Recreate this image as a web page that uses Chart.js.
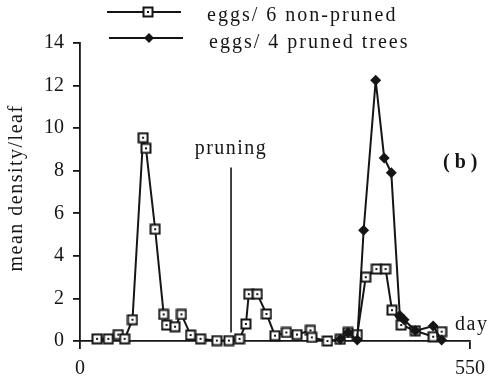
<!DOCTYPE html>
<html>
<head>
<meta charset="utf-8">
<script src="https://cdn.jsdelivr.net/npm/chart.js@4.4.0/dist/chart.umd.min.js"></script>
<style>
  html, body { margin: 0; padding: 0; background: #fff; }
  #wrap { width: 493px; height: 389px; }
</style>
</head>
<body>
<div id="wrap"><canvas id="chart" width="493" height="389"></canvas></div>
<script>
// data (day, mean eggs per leaf)
var nonPrunedDays = [24, 40, 54, 63, 74, 89, 93, 106, 118, 122, 134, 143, 156, 170, 193, 210, 225, 234, 238, 250, 263, 275, 291, 306, 325, 327, 349, 367, 378, 391, 403, 418, 431, 440, 453, 473, 498, 510];
var nonPrunedEggs = [0.1, 0.1, 0.3, 0.1, 1.0, 9.55, 9.05, 5.25, 1.25, 0.75, 0.67, 1.25, 0.28, 0.1, 0.02, 0.02, 0.1, 0.8, 2.2, 2.2, 1.27, 0.25, 0.4, 0.3, 0.5, 0.17, 0.0, 0.08, 0.4, 0.3, 3.0, 3.38, 3.38, 1.45, 0.75, 0.48, 0.2, 0.44];

var prunedDays = [367, 378, 391, 400, 417, 429, 439, 451, 457, 473, 498, 510];
var prunedEggs = [0.08, 0.4, 0.05, 5.2, 12.25, 8.6, 7.9, 1.2, 1.0, 0.48, 0.7, 0.05];

var pruningDay = [213, 213];
var pruningMark = [8.15, 0.4];

var xTickLabels = [0, 550];
var yTicks = [0, 2, 4, 6, 8, 10, 12, 14];

var serif = "'Liberation Serif', 'DejaVu Serif', serif";
var ink = "#151515";

function toPoints(xs, ys) {
    return xs.map(function (x, i) { return { x: x, y: ys[i] }; });
}

// open square with a dot, like the original marker
function makeSquare() {
    var c = document.createElement("canvas");
    c.width = 12; c.height = 12;
    var g = c.getContext("2d");
    g.fillStyle = "#fff";
    g.fillRect(1, 1, 10, 10);
    g.strokeStyle = ink;
    g.lineWidth = 2;
    g.strokeRect(1.5, 1.5, 9, 9);
    g.fillStyle = ink;
    g.fillRect(5, 5, 2, 2);
    return c;
}
var squareImg = makeSquare();

function spacedText(ctx, text, x, y, spacing, align) {
    ctx.save();
    ctx.letterSpacing = spacing + "px";
    ctx.textAlign = align || "left";
    ctx.fillText(text, x, y);
    ctx.restore();
}

// legend, labels and the y title
var decorations = {
    id: "decorations",
    afterDraw: function (chart) {
        var ctx = chart.ctx;
        ctx.save();
        ctx.strokeStyle = ink;
        ctx.fillStyle = ink;
        ctx.lineWidth = 2;

        // legend row 1
        ctx.beginPath(); ctx.moveTo(107, 12); ctx.lineTo(181, 12); ctx.stroke();
        ctx.drawImage(squareImg, 148 - 6, 12 - 6);
        // legend row 2
        ctx.beginPath(); ctx.moveTo(109, 38); ctx.lineTo(183, 38); ctx.stroke();
        ctx.beginPath();
        ctx.moveTo(149, 33); ctx.lineTo(154, 38); ctx.lineTo(149, 43); ctx.lineTo(144, 38);
        ctx.closePath(); ctx.fill();

        ctx.font = "20px " + serif;
        ctx.textBaseline = "alphabetic";
        spacedText(ctx, "eggs/ 6 non-pruned", 207, 21, 2);
        spacedText(ctx, "eggs/ 4 pruned trees", 209, 48, 2);

        spacedText(ctx, "pruning", 231, 154, 1.5, "center");
        spacedText(ctx, "day", 455, 330, 1.5);

        ctx.font = "bold 20px " + serif;
        spacedText(ctx, "(b)", 443, 168, 5);

        // y title
        ctx.font = "20px " + serif;
        ctx.translate(22, 188);
        ctx.rotate(-Math.PI / 2);
        spacedText(ctx, "mean density/leaf", 0, 0, 1.5, "center");
        ctx.restore();
    }
};

var ctx = document.getElementById("chart").getContext("2d");
var chart = new Chart(ctx, {
    type: "line",
    data: {
        datasets: [{
            label: "eggs/ 4 pruned trees",
            data: toPoints(prunedDays, prunedEggs),
            borderColor: ink,
            backgroundColor: ink,
            borderWidth: 2,
            pointStyle: "rectRot",
            pointRadius: 5.5,
            pointBorderWidth: 0,
            tension: 0
        }, {
            label: "eggs/ 6 non-pruned",
            data: toPoints(nonPrunedDays, nonPrunedEggs),
            borderColor: ink,
            backgroundColor: "#fff",
            borderWidth: 2,
            pointStyle: squareImg,
            tension: 0
        }, {
            label: "pruning",
            data: toPoints(pruningDay, pruningMark),
            borderColor: ink,
            borderWidth: 1.6,
            pointRadius: 0
        }]
    },
    options: {
        responsive: false,
        animation: false,
        clip: false,
        layout: { padding: { left: 0, top: 43, right: 19, bottom: 0 } },
        plugins: {
            legend: { display: false },
            tooltip: { enabled: false }
        },
        scales: {
            x: {
                type: "linear",
                min: 0,
                max: 550,
                afterBuildTicks: function (scale) {
                    scale.ticks = xTickLabels.map(function (v) { return { value: v }; });
                },
                afterFit: function (scale) { scale.height = 48; },
                border: { display: true, color: ink, width: 1.8 },
                grid: { drawOnChartArea: false, drawTicks: true, tickLength: 8, color: ink, lineWidth: 1.8 },
                ticks: {
                    color: ink,
                    font: { family: serif, size: 20 },
                    padding: 8,
                    maxRotation: 0
                }
            },
            y: {
                min: 0,
                max: 14,
                afterBuildTicks: function (scale) {
                    scale.ticks = yTicks.map(function (v) { return { value: v }; });
                },
                afterFit: function (scale) { scale.width = 80; },
                border: { display: true, color: ink, width: 1.8 },
                grid: { drawOnChartArea: false, drawTicks: true, tickLength: 7, color: ink, lineWidth: 1.8 },
                ticks: {
                    color: ink,
                    font: { family: serif, size: 20 },
                    padding: 9
                }
            }
        }
    },
    plugins: [decorations]
});
</script>
</body>
</html>
